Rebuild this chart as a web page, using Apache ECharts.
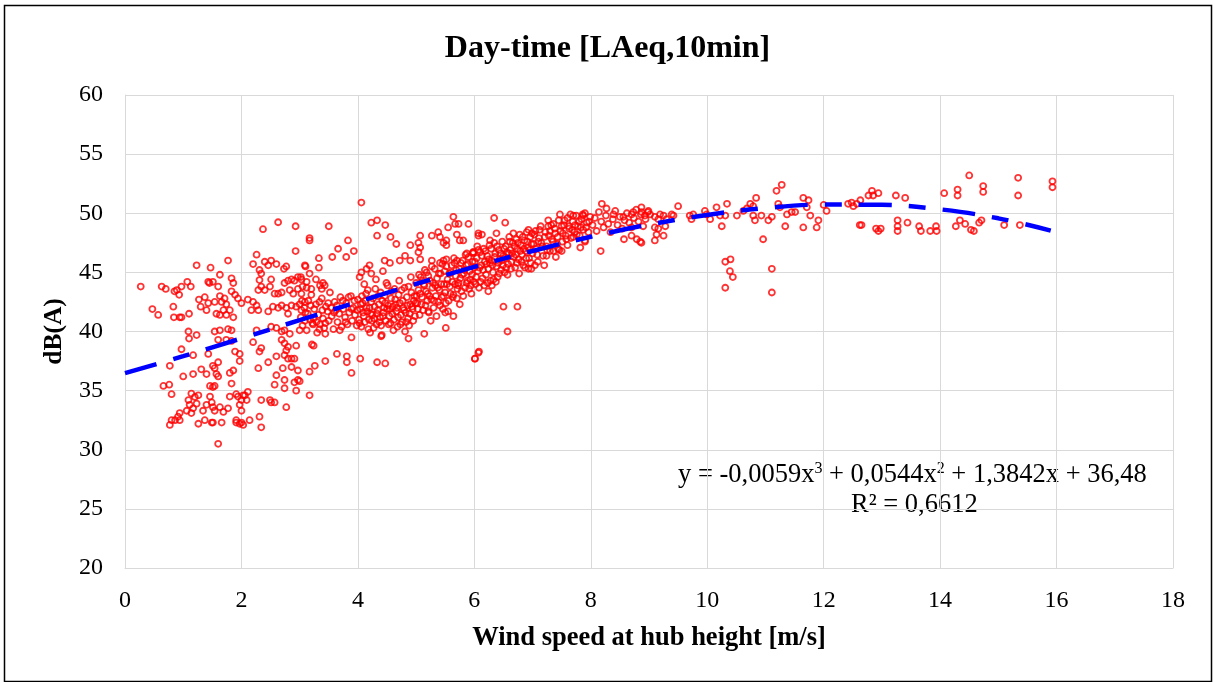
<!DOCTYPE html>
<html>
<head>
<meta charset="utf-8">
<script src="https://cdn.jsdelivr.net/npm/echarts@6/dist/echarts.min.js"></script>
<style>
html,body{margin:0;padding:0;background:#fff;}
#chart{width:1215px;height:682px;}
</style>
</head>
<body>
<div id="chart"></div>
<script>
// ---- data: [wind speed m/s, dB(A)] ----
const obsLowWind = [
[0.27,43.8],[0.63,43.8],[0.70,43.6],[0.85,43.4],[0.89,43.5],[0.97,43.8],[1.07,44.2],[1.13,43.8],[1.23,45.6],[1.47,45.4],[1.77,46.0],[0.93,43.1],
[0.47,41.9],[0.57,41.4],[0.83,42.1],[0.84,41.2],[0.94,41.2],[0.97,41.2],[1.10,41.5],[1.27,42.7],[1.30,42.1],[1.37,42.9],[1.43,42.4],[1.40,41.8],
[1.45,44.1],[1.43,44.2],[1.51,44.2],[1.54,42.5],[1.63,44.8],[1.60,43.8],[1.63,43.0],[1.71,42.8],[1.66,42.5],[1.69,41.8],[1.57,41.5],[1.63,41.4],
[1.74,41.4],[1.83,44.5],[1.86,44.1],[1.83,43.4],[1.89,43.1],[1.94,42.8],[2.00,42.4],[1.86,41.2],[1.74,42.3],[1.80,41.8],
[1.09,40.0],[1.10,39.4],[1.23,39.7],[0.97,38.5],[1.17,38.0],[0.77,37.1],[1.00,36.2],[1.17,36.4],[0.66,35.4],[0.76,35.5],[0.80,34.7],
[1.31,36.8],[1.40,36.4],[1.51,37.1],[1.54,36.9],[1.57,36.4],[1.60,36.2],[1.51,35.3],[1.46,35.4],[1.54,35.4],[1.83,35.6],[1.80,36.5],[1.86,36.7],
[1.89,38.3],[1.97,38.1],[1.97,37.5],[1.43,38.1],[1.60,37.4],[1.54,40.0],[1.63,40.1],[1.77,40.2],[1.83,40.1],[1.74,39.3],[1.83,39.2],[1.60,39.3],
[1.14,34.75],[1.20,34.46],[1.26,34.6],[1.09,34.2],[1.11,33.8],[1.17,33.5],[1.23,33.9],[1.06,33.3],[1.14,33.1],[0.94,33.1],[0.91,32.8],[0.80,32.5],
[0.77,32.1],[0.86,32.5],[0.94,32.5],[1.26,32.2],[1.37,32.5],[1.34,33.3],[1.40,33.8],[1.46,34.5],[1.49,34.0],[1.51,33.6],[1.54,33.3],[1.49,32.3],
[1.51,32.3],[1.66,32.3],[1.63,33.6],[1.69,33.2],[1.77,33.5],[1.80,34.5],[1.91,34.7],[1.94,34.5],[2.00,34.2],[2.03,34.6],[1.97,33.8],[2.00,33.3],
[1.91,32.5],[1.97,32.2],[2.03,32.1],[2.14,32.5],[2.06,34.6],[2.09,34.2],[1.60,30.5]
];
const obsMidLowWind = [
[2.26,46.5],[2.20,45.7],[2.31,45.2],[2.34,44.9],[2.40,45.9],[2.46,45.6],[2.51,46.0],[2.60,45.7],[2.73,45.3],[2.77,45.5],[2.93,46.8],[3.09,45.6],
[2.37,48.65],[2.63,49.24],[2.93,48.9],
[2.31,44.35],[2.34,43.8],[2.29,43.5],[2.40,43.5],[2.49,43.8],[2.51,44.4],[2.57,43.2],[2.63,43.2],[2.69,43.3],[2.74,44.1],[2.80,44.3],[2.86,44.4],
[2.91,44.3],[2.97,44.6],[3.03,44.4],[2.83,43.5],[2.89,43.2],[2.97,43.6],[3.03,43.2],
[2.11,42.7],[2.20,42.5],[2.26,42.2],[2.29,41.8],[2.17,41.8],[2.46,41.7],[2.54,42.1],[2.63,42.0],[2.69,42.2],[2.77,42.0],[2.80,41.5],[2.86,42.2],
[2.94,42.1],[3.03,41.8],[3.00,42.3],[3.09,42.5],
[2.26,40.1],[2.51,40.4],[2.60,40.3],[2.69,40.0],[2.74,40.1],[2.83,39.8],[2.69,39.3],[2.74,39.0],[2.80,38.7],[2.77,38.4],[2.74,38.0],[2.80,37.7],
[2.86,37.7],[2.91,37.7],[2.94,38.8],[3.00,40.1],[2.34,38.6],[2.31,38.3],[2.20,39.1],[2.46,37.4],[2.60,37.9],[2.71,36.9],[2.86,37.0],[2.97,36.7],
[2.29,36.9],[2.60,36.3],[2.74,35.9],[2.91,35.7],[2.97,35.9],[2.57,35.5],[2.74,35.2],[2.94,35.0],[2.34,34.2],[2.49,34.2],[2.51,34.0],[2.57,34.0],
[2.77,33.6],[2.11,34.9],[2.31,32.8],[2.34,31.9],[2.00,32.3],[1.91,32.3]
];
const obsMidWind = [
[4.06,50.9],[3.50,48.9],[3.17,47.9],[3.17,47.7],[4.23,49.2],[4.33,49.4],[4.47,49.0],[4.33,48.1],[4.56,48.0],[4.66,47.4],
[3.83,47.7],[3.66,47.0],[3.56,46.3],[3.80,46.3],[3.93,46.8],[3.33,46.2],[3.33,45.4],[3.10,45.5],[3.17,44.9],
[4.90,47.3],[5.04,47.5],[5.07,48.1],[5.07,47.1],[5.04,46.7],[4.81,46.4],[4.72,46.0],[4.90,46.0],[4.55,45.8],[4.46,46.0],[4.43,45.1],[4.20,45.6],
[4.15,45.3],[4.06,45.0],[4.03,44.6],[4.23,44.9],
[5.27,48.1],[5.38,48.4],[5.41,48.0],[5.47,47.5],[5.52,47.7],[5.55,48.8],[5.64,49.7],[5.67,49.1],[5.73,49.1],[5.75,47.7],[5.90,49.1],[5.81,47.7],
[5.70,48.2],[5.52,47.3],[5.07,46.1],[5.27,46.0],[5.41,45.8],[5.47,46.0],[5.52,46.1],[5.70,46.0],[5.87,46.6],[5.98,46.7],[6.07,48.1],
[3.21,38.9],[3.24,38.8],[3.44,39.8],[3.64,38.1],[3.81,37.9],[3.81,37.4],[3.44,37.5],[3.26,37.1],[3.17,36.6],[3.00,35.8],[3.17,34.6],
[3.89,39.5],[4.04,37.7],[4.33,37.4],[4.47,37.3],[4.94,37.4],[3.89,36.5],[4.40,39.6],[4.87,39.4],[5.14,39.8],[5.51,40.3],[5.64,41.3],[5.50,41.6],
[5.21,41.7],[6.01,37.7],[6.07,38.2],
[3.05,43.8],[3.12,44.2],[3.20,43.6],[3.28,44.4],[3.35,43.9],[3.02,44.6],[3.40,44.1],[3.43,43.9],[3.38,43.6],[3.12,43.7],[3.23,40.6],[3.34,40.2]
];
const obsBand = [
[3.02,41.2],[3.05,40.5],[3.08,42.0],[3.10,41.6],[3.12,40.1],[3.15,42.6],[3.18,41.0],[3.20,43.1],[3.22,40.7],[3.25,41.9],[3.28,42.3],[3.30,39.9],
[3.32,41.4],[3.35,40.6],[3.38,42.8],[3.40,41.1],[3.42,40.3],[3.45,42.1],[3.48,41.7],[3.50,40.9],[3.52,43.3],[3.55,41.3],[3.58,40.2],[3.60,42.5],
[3.62,41.8],[3.65,40.8],[3.68,41.5],[3.70,42.9],[3.72,40.4],[3.75,41.9],[3.78,41.2],[3.80,42.4],[3.82,40.6],[3.85,41.6],[3.88,43.0],[3.90,40.9],
[3.92,42.0],[3.95,41.4],[3.98,40.5],[4.00,42.7],
[4.02,41.0],[4.04,41.9],[4.06,40.4],[4.08,42.4],[4.10,41.3],[4.12,40.8],[4.14,43.2],[4.16,41.7],[4.18,40.2],[4.20,42.0],[4.22,41.5],[4.24,40.9],
[4.26,42.8],[4.28,41.1],[4.30,43.6],[4.32,40.6],[4.34,41.8],[4.36,42.3],[4.38,41.2],[4.40,40.5],[4.42,42.6],[4.44,41.6],[4.46,43.0],[4.48,40.9],
[4.50,41.9],[4.52,42.2],[4.54,41.3],[4.56,40.7],[4.58,43.4],[4.60,42.1],[4.62,41.0],[4.64,42.7],[4.66,41.7],[4.68,40.4],[4.70,43.1],[4.72,42.4],
[4.74,41.4],[4.76,40.8],[4.78,42.0],[4.80,43.7],[4.82,41.6],[4.84,42.9],[4.86,41.1],[4.88,40.5],[4.90,42.3],[4.92,43.3],[4.94,41.9],[4.96,42.6],
[4.98,41.3],[5.00,44.1],
[4.05,42.3],[4.15,42.0],[4.25,41.4],[4.35,43.0],[4.45,42.0],[4.55,41.9],[4.65,42.3],[4.75,43.5],[4.85,42.2],[4.95,40.9],[4.11,44.0],[4.31,44.4],
[4.51,43.9],[4.71,44.3],[4.91,44.6],[4.21,39.9],[4.41,39.7],[4.61,40.1],[4.81,40.0],
[5.02,42.4],[5.04,43.5],[5.06,41.4],[5.08,44.6],[5.10,42.9],[5.12,41.8],[5.14,43.9],[5.16,42.2],[5.18,45.0],[5.20,43.2],[5.22,41.6],[5.24,44.3],
[5.26,42.7],[5.28,43.7],[5.30,42.0],[5.32,45.3],[5.34,43.0],[5.36,44.5],[5.38,42.5],[5.40,43.5],[5.42,44.9],[5.44,42.9],[5.46,41.9],[5.48,44.0],
[5.50,43.3],[5.52,45.5],[5.54,44.4],[5.56,42.6],[5.58,43.8],[5.60,45.0],[5.62,44.2],[5.64,43.1],[5.66,45.8],[5.68,44.7],[5.70,42.8],[5.72,43.9],
[5.74,45.3],[5.76,44.5],[5.78,43.4],[5.80,46.0],[5.82,44.9],[5.84,43.7],[5.86,45.6],[5.88,44.3],[5.90,46.3],[5.92,45.1],[5.94,43.9],[5.96,44.8],
[5.98,46.6],[6.00,45.4],
[5.05,44.8],[5.15,45.2],[5.25,40.9],[5.35,41.3],[5.45,45.7],[5.55,41.7],[5.65,46.2],[5.75,42.3],[5.85,46.5],[5.95,43.2],[5.13,44.0],[5.33,43.9],
[5.53,44.0],[5.73,44.1],[5.93,44.4],
[6.02,44.0],[6.04,46.2],[6.06,45.1],[6.08,43.7],[6.10,46.7],[6.12,45.6],[6.14,44.5],[6.16,47.0],[6.18,45.9],[6.20,44.8],[6.22,46.4],[6.24,45.3],
[6.26,47.3],[6.28,44.3],[6.30,46.0],[6.32,45.0],[6.34,47.5],[6.36,46.6],[6.38,45.5],[6.40,44.6],[6.42,46.9],[6.44,46.1],[6.46,45.2],[6.48,47.6],
[6.50,46.4],[6.52,45.0],[6.54,47.2],[6.56,46.7],[6.58,45.7],[6.60,48.0],[6.62,46.9],[6.64,45.9],[6.66,47.5],[6.68,46.3],[6.70,45.4],[6.72,47.8],
[6.74,47.0],[6.76,46.1],[6.78,48.2],[6.80,47.3],[6.82,46.5],[6.84,45.6],[6.86,47.7],[6.88,46.8],[6.90,48.4],[6.92,47.1],[6.94,46.2],[6.96,48.0],
[6.98,47.4],[7.00,46.6],
[6.07,46.9],[6.17,43.9],[6.27,45.8],[6.37,44.2],[6.47,46.0],[6.57,44.8],[6.67,48.3],[6.77,44.9],[6.87,45.4],[6.97,45.8],
[7.03,48.2],[7.06,47.0],[7.09,45.9],[7.12,48.6],[7.15,47.5],[7.18,46.4],[7.21,48.0],[7.24,47.2],[7.27,48.9],[7.30,46.8],[7.33,47.8],[7.36,49.1],
[7.39,48.3],[7.42,47.4],[7.45,49.4],[7.48,48.5],[7.51,47.6],[7.54,49.0],[7.57,48.1],[7.60,49.6],[7.63,48.7],[7.66,47.9],[7.69,49.3],[7.72,48.4],
[7.75,49.8],[7.78,48.9],[7.81,48.1],[7.84,49.5],[7.87,48.6],[7.90,50.0],[7.93,49.2],[7.96,48.4],[7.99,49.7],
[7.10,47.6],[7.20,45.6],[7.30,48.5],[7.40,46.3],[7.50,48.9],[7.60,47.3],[7.70,48.0],[7.80,49.3],[7.90,47.6],
[8.03,49.0],[8.07,49.6],[8.10,48.5],[8.14,50.1],[8.18,49.3],[8.22,48.8],[8.26,49.8],[8.30,49.1],[8.34,48.4],[8.38,49.5],[8.42,50.2],[8.46,49.0],
[8.50,49.7],[8.54,48.7],[8.58,49.4],[8.62,50.0],[8.66,49.2],[8.70,48.8],[8.74,49.6],[8.78,50.3],[8.82,49.3],[8.86,49.9],[8.90,48.9],[8.94,49.5],
[8.98,50.1]
];
const obsBandExtra = [
[3.04,42.6],[3.09,40.9],[3.14,41.5],[3.19,42.2],[3.24,41.1],[3.29,40.8],[3.34,42.5],[3.39,41.8],[3.44,40.7],[3.49,42.4],[3.54,42.0],[3.59,41.6],
[3.64,42.2],[3.69,40.1],[3.74,42.6],[3.79,40.8],[3.84,42.9],[3.89,41.9],[3.94,42.6],[3.99,41.8],
[4.03,40.7],[4.07,43.0],[4.09,41.6],[4.13,42.6],[4.17,43.5],[4.19,41.0],[4.23,42.5],[4.27,40.3],[4.29,42.1],[4.33,41.5],[4.37,40.8],[4.39,43.3],
[4.43,41.3],[4.47,42.4],[4.49,44.1],[4.53,40.6],[4.57,42.8],[4.59,41.5],[4.63,43.6],[4.67,42.0],[4.69,41.2],[4.73,40.6],[4.77,42.6],[4.79,41.8],
[4.83,40.8],[4.87,43.8],[4.89,41.5],[4.93,42.1],[4.97,43.0],[4.99,42.4],
[5.01,43.0],[5.03,41.9],[5.07,43.2],[5.09,42.3],[5.11,44.3],[5.17,43.4],[5.19,42.6],[5.21,44.7],[5.23,43.0],[5.27,45.5],[5.29,44.1],[5.31,42.6],
[5.37,43.7],[5.39,44.9],[5.41,42.2],[5.43,44.0],[5.47,43.0],[5.49,45.1],[5.51,42.4],[5.57,44.9],[5.59,43.2],[5.61,45.6],[5.63,42.9],[5.67,44.0],
[5.69,45.2],[5.71,43.6],[5.77,45.8],[5.79,44.8],[5.81,43.0],[5.83,45.2],[5.87,44.1],[5.89,45.7],[5.91,43.6],[5.97,45.9],[5.99,44.2],
[6.01,45.9],[6.03,44.6],[6.05,47.2],[6.09,45.4],[6.11,44.2],[6.13,46.4],[6.15,45.2],[6.19,46.8],[6.21,45.7],[6.23,44.1],[6.25,46.1],[6.29,47.0],
[6.31,45.6],[6.33,44.4],[6.35,46.3],[6.39,47.2],[6.41,45.8],[6.43,44.9],[6.45,46.6],[6.49,45.6],[6.51,47.0],[6.53,46.2],[6.55,45.4],[6.59,46.6],
[6.61,47.6],[6.63,45.3],[6.65,46.6],[6.69,47.2],[6.71,46.5],[6.73,45.8],[6.75,47.5],[6.79,46.8],[6.81,45.9],[6.83,48.0],[6.85,47.0],[6.89,46.2],
[6.91,47.6],[6.93,48.6],[6.95,46.9],[6.99,48.3],
[7.02,47.4],[7.05,48.5],[7.08,46.5],[7.11,47.9],[7.14,48.9],[7.17,47.2],[7.22,48.4],[7.25,46.9],[7.28,48.1],[7.32,49.0],[7.35,47.6],[7.38,48.7],
[7.43,48.0],[7.46,46.9],[7.52,48.3],[7.55,49.4],[7.58,47.8],[7.62,48.9],[7.65,49.9],[7.68,48.6],[7.73,49.0],[7.76,48.2],[7.83,48.8],[7.86,49.9],
[7.92,48.8],[7.97,49.3]
];
const obsUpperMidWind = [
[6.34,49.6],[6.50,42.1],[6.74,42.1],[6.57,40.0],[6.08,38.3],[6.01,37.7],[6.24,43.4],[6.30,43.9],
[8.19,50.8],[8.27,50.4],[8.39,49.9],[8.56,49.7],[8.70,49.9],[8.87,50.5],[8.73,50.1],[8.17,46.8],[8.57,47.8],[8.70,48.1],[8.79,47.8],[8.87,47.5],
[7.47,49.9],[7.70,49.8],[7.87,49.8],[7.27,49.4],[7.82,47.1],[7.90,47.7],[7.44,47.0],[7.50,46.8],[7.36,46.8],[7.24,46.4],[6.98,45.3],[7.04,45.6],
[6.93,45.3],[6.53,49.2],[6.38,48.3],[6.07,48.3],[6.13,48.2],[6.27,47.7],[5.98,46.7]
];
const obsHighWind = [
[8.87,50.1],[8.93,49.8],[8.99,50.2],[9.02,49.9],[9.10,49.7],[9.16,49.5],[9.19,49.9],[9.25,49.8],[9.30,49.5],[9.39,49.9],[9.42,49.8],[9.50,50.6],
[8.85,47.6],[9.10,47.7],[9.13,48.2],[9.16,48.7],[9.25,48.1],[9.28,48.9],[9.10,48.8],
[9.70,49.8],[9.76,49.9],[9.73,49.5],[9.96,50.2],[9.99,49.9],[10.05,49.5],[10.16,50.5],[10.22,49.8],[10.25,48.9],[10.34,50.8],[10.31,49.8],
[10.51,49.8],[10.62,50.2],[10.74,50.8],[10.79,50.6],[10.84,51.3],[10.68,50.4],[10.79,49.8],[10.82,49.4],[10.93,49.8],[10.96,47.8],[11.05,49.4],
[11.11,49.7],[11.11,45.3],[11.11,43.3],[11.19,51.9],[11.28,52.4],[11.22,50.8],[11.25,50.5],[11.37,49.9],[11.34,48.9],[11.45,50.1],[11.51,50.1],
[11.65,51.3],[11.71,50.5],[11.74,51.1],[11.77,49.8],[11.65,48.8],[11.91,49.4],[11.88,48.8],[12.05,50.2],[12.00,50.7],
[10.31,45.9],[10.40,46.1],[10.39,45.1],[10.44,44.6],[10.31,43.7],[12.42,50.8],[12.62,49.0],[12.57,50.8],
[12.48,50.9],[12.51,50.6],[12.63,51.1],[12.77,51.5],[12.83,51.9],[12.85,51.5],[12.94,51.7],[12.65,49.0],[12.90,48.7],[12.94,48.5],[12.98,48.7],
[13.24,51.5],[13.40,51.3],[13.27,49.4],[13.27,48.9],[13.27,48.5],[13.44,49.2],[13.64,48.9],[13.67,48.5],[13.83,48.5],[13.93,48.9],[13.94,48.5],
[14.07,51.7],[14.30,52.0],[14.30,51.5],[14.50,53.2],[14.74,52.3],[14.74,51.8],[14.34,49.4],[14.27,48.9],[14.43,49.1],[14.53,48.6],[14.58,48.5],
[14.67,49.2],[14.71,49.4],[15.10,49.0],[15.34,53.0],[15.34,51.5],[15.37,49.0],[15.93,52.7],[15.93,52.2]
];
// polynomial trendline values as drawn (y = -0,0059x³ + 0,0544x² + 1,3842x + 36,48)
const trendX = [0,1,2,3,4,5,6,7,8,9,10,11,12,13,14,15,15.9];
const trendY = [36.48,37.91,39.42,40.96,42.51,44.02,45.47,46.81,48.01,49.04,49.86,50.44,50.73,50.71,50.33,49.57,48.53];
const xTicks = [0,2,4,6,8,10,12,14,16,18];
const yTicks = [20,25,30,35,40,45,50,55,60];

const chart = echarts.init(document.getElementById('chart'), null, {renderer:'canvas'});
const FONT = '"Liberation Serif","Times New Roman",serif';
const allObs = [].concat(obsLowWind, obsMidLowWind, obsMidWind, obsBand, obsBandExtra, obsUpperMidWind, obsHighWind);
const trend = trendX.map((x,i)=>[x,trendY[i]]);

chart.setOption({
  animation:false,
  backgroundColor:'#ffffff',
  title:{
    text:'Day-time [LAeq,10min]',
    left:'center', top:28,
    textStyle:{fontFamily:FONT, fontSize:32, fontWeight:'bold', color:'#000'}
  },
  grid:{left:125, right:42, top:95, bottom:114},
  xAxis:{
    type:'value', min:xTicks[0], max:xTicks[xTicks.length-1], interval:2,
    name:'Wind speed at hub height [m/s]', nameLocation:'middle', nameGap:57,
    nameTextStyle:{fontFamily:FONT, fontSize:26.5, fontWeight:'bold', color:'#000'},
    axisLine:{show:true, lineStyle:{color:'#d9d9d9', width:1}},
    axisTick:{show:false},
    axisLabel:{fontFamily:FONT, fontSize:24, color:'#000', margin:21},
    splitLine:{show:true, lineStyle:{color:'#d9d9d9', width:1}}
  },
  yAxis:{
    type:'value', min:yTicks[0], max:yTicks[yTicks.length-1], interval:5,
    name:'dB(A)', nameLocation:'middle', nameGap:58,
    nameTextStyle:{fontFamily:FONT, fontSize:25.5, fontWeight:'bold', color:'#000'},
    axisLine:{show:true, lineStyle:{color:'#d9d9d9', width:1}},
    axisTick:{show:false},
    axisLabel:{fontFamily:FONT, fontSize:24, color:'#000', margin:22},
    splitLine:{show:true, lineStyle:{color:'#d9d9d9', width:1}}
  },
  series:[
    {
      type:'scatter', data:allObs, symbol:'circle', symbolSize:6,
      itemStyle:{color:'rgba(255,255,255,0)', borderColor:'#ff0000', borderWidth:1.8},
      z:2
    },
    {
      type:'line', data:trend, smooth:0.4, showSymbol:false,
      lineStyle:{color:'#0000ff', width:4.5, type:[33,17,17,17], cap:'butt'},
      z:3
    }
  ],
  graphic:[
    {type:'rect', shape:{x:4.5, y:5.5, width:1207, height:676}, style:{fill:'none', stroke:'#000', lineWidth:1.5}, silent:true},
    {type:'text', left:678, top:461, style:{
      rich:{
        b:{fontFamily:FONT,fontSize:26.5,fill:'#000'},
        s:{fontFamily:FONT,fontSize:16,fill:'#000',verticalAlign:'top',padding:[0,0,12,0]}
      },
      text:'{b|y = -0,0059x}{s|3}{b| + 0,0544x}{s|2}{b| + 1,3842x + 36,48}'
    }},
    {type:'text', left:851, top:492, style:{text:'R² = 0,6612', fontFamily:FONT, fontSize:26.5, fill:'#000'}}
  ]
});
</script>
</body>
</html>
